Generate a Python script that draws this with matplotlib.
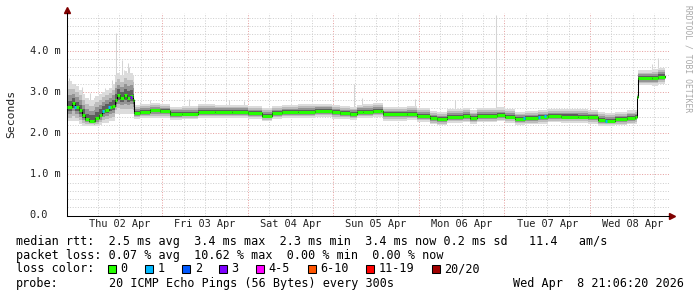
import numpy as np
import matplotlib
matplotlib.use('Agg')
import matplotlib.pyplot as plt
from matplotlib.patches import Rectangle
from matplotlib.transforms import blended_transform_factory

W, H = 697, 297
MONO = 'DejaVu Sans Mono'

# time axis: hours since Thu 02 Apr 00:00
t_hours = [-2.8, -1.3, -0.4, 0.6, 1.5, 2.4, 3.4, 4.8, 5.2, 6.2, 7.1, 8.0, 9.0, 9.9,
           10.7, 11.3, 12.2, 13.2, 14.1, 15.0, 15.7, 16.1, 17.7, 20.6, 23.4, 26.2,
           29.5, 34.0, 38.8, 43.5, 48.0, 52.0, 54.8, 57.6, 62.1, 66.8, 71.6, 73.8,
           76.6, 78.6, 80.3, 83.1, 85.3, 85.9, 92.6, 95.4, 99.1, 101.0, 103.8, 108.3,
           110.3, 112.2, 117.9, 120.1, 122.9, 125.7, 129.3, 132.1, 136.0, 140.5,
           143.3, 146.2, 148.1, 150.9, 154.5, 156.5, 157.1, 157.4, 161.3, 163.0, 165.0]
# median rtt (ms)
median_ms = [2.62, 2.73, 2.62, 2.56, 2.44, 2.34, 2.30, 2.29, 2.36, 2.44, 2.54, 2.57, 2.62, 2.65,
             2.80, 2.92, 2.86, 2.92, 2.86, 2.90, 2.80, 2.49, 2.52, 2.55, 2.53, 2.46,
             2.47, 2.52, 2.52, 2.51, 2.48, 2.42, 2.48, 2.51, 2.52, 2.54, 2.50, 2.48,
             2.46, 2.51, 2.52, 2.54, 2.54, 2.45, 2.46, 2.42, 2.36, 2.33, 2.39, 2.41,
             2.36, 2.41, 2.43, 2.40, 2.34, 2.36, 2.38, 2.41, 2.40, 2.40,
             2.38, 2.32, 2.30, 2.33, 2.36, 2.38, 2.87, 3.33, 3.33, 3.37, 3.38]
# smoke extent (fastest / slowest ping, ms)
smoke_lo = [2.28, 2.30, 2.28, 2.22, 2.18, 2.18, 2.17, 2.17, 2.18, 2.20, 2.24, 2.25, 2.28, 2.30,
            2.45, 2.47, 2.46, 2.46, 2.46, 2.47, 2.46, 2.35, 2.36, 2.37, 2.37, 2.32,
            2.33, 2.37, 2.37, 2.36, 2.34, 2.29, 2.34, 2.36, 2.37, 2.39, 2.35, 2.34,
            2.32, 2.36, 2.37, 2.39, 2.39, 2.30, 2.31, 2.27, 2.21, 2.19, 2.24, 2.26,
            2.22, 2.26, 2.28, 2.25, 2.20, 2.21, 2.23, 2.26, 2.25, 2.25,
            2.23, 2.18, 2.17, 2.19, 2.21, 2.23, 2.80, 3.16, 3.15, 3.18, 3.18]
smoke_hi = [3.25, 3.20, 3.15, 3.05, 2.95, 2.85, 2.80, 2.85, 2.90, 2.95, 3.00, 3.05, 3.10, 3.20,
            3.40, 3.45, 3.40, 3.50, 3.45, 3.45, 3.40, 2.67, 2.70, 2.72, 2.70, 2.64,
            2.65, 2.70, 2.69, 2.69, 2.66, 2.60, 2.65, 2.68, 2.70, 2.71, 2.68, 2.66,
            2.64, 2.69, 2.70, 2.72, 2.72, 2.64, 2.65, 2.60, 2.54, 2.52, 2.58, 2.60,
            2.55, 2.60, 2.62, 2.58, 2.52, 2.54, 2.57, 2.59, 2.59, 2.58,
            2.57, 2.51, 2.49, 2.52, 2.55, 2.57, 2.95, 3.52, 3.55, 3.58, 3.58]

# single slow pings sticking out of the smoke
spike_t = [-2.3, -0.5, 1.5, 3.7, 7.9, 9.9, 11.0, 12.6, 13.4, 14.3, 14.8, 17.7, 20.5,
           31.6, 42.8, 47.0, 77.8, 80.0, 94.9, 106.1, 117.6, 161.3, 163.2]
spike_top = [3.33, 3.20, 3.12, 2.97, 3.09, 3.28, 4.42, 3.77, 3.53, 3.70, 3.61, 2.76, 2.80,
             2.83, 2.80, 2.78, 3.20, 2.85, 2.83, 2.80, 4.85, 3.67, 3.82]

# intervals with packet loss (count of lost pings)
loss_t = [-0.5, 7.3, 9.0, 15.3, 125.6, 129.6, 131.3, 148.4]
loss_val = [2.62, 2.54, 2.62, 2.88, 2.36, 2.38, 2.41, 2.30]
loss_count = [1, 1, 1, 3, 1, 1, 1, 1]

day_labels = ['Thu 02 Apr', 'Fri 03 Apr', 'Sat 04 Apr', 'Sun 05 Apr',
              'Mon 06 Apr', 'Tue 07 Apr', 'Wed 08 Apr']
y_ticks = [0.0, 1.0, 2.0, 3.0, 4.0]
y_tick_labels = ['0.0', '1.0 m', '2.0 m', '3.0 m', '4.0 m']

loss_labels = ['0', '1', '2', '3', '4-5', '6-10', '11-19', '20/20']
loss_colors = ['#26ff00', '#00b8ff', '#0059ff', '#7e00ff', '#ff00ff',
               '#ff5500', '#ff0000', '#a00000']

legend_rows = [
    'median rtt:  2.5 ms avg  3.4 ms max  2.3 ms min  3.4 ms now 0.2 ms sd   11.4   am/s',
    'packet loss: 0.07 % avg  10.62 % max  0.00 % min  0.00 % now',
]
probe_text = '20 ICMP Echo Pings (56 Bytes) every 300s'
stamp_text = 'Wed Apr  8 21:06:20 2026'


def fx(px):
    return px / W


def fy(py):
    return 1 - py / H


fig = plt.figure(figsize=(W / 100, H / 100), dpi=100)
fig.patch.set_facecolor('white')

# plot area in pixels
left, right, top, bottom = 66.7, 669.0, 13.4, 215.5
ax = fig.add_axes([fx(left), fy(bottom), (right - left) / W, (bottom - top) / H])
px_per_h = 85.55 / 24
ax.set_xlim((left - 76.7) / px_per_h, (right - 76.7) / px_per_h)
ax.set_ylim(0, 4.9)
ax.set_facecolor('white')

# grid
for h in range(6, 166, 6):
    major = h % 24 == 0
    ax.axvline(h, color='#e6a0a0' if major else '#cfcfcf', lw=0.72,
               ls=(0, (1, 1.6)), zorder=0)
for v in np.arange(0.2, 4.85, 0.2):
    major = abs(v - round(v)) < 1e-6
    ax.axhline(v, color='#e6a0a0' if major else '#cfcfcf', lw=0.72,
               ls=(0, (1, 1.6)), zorder=0)

t = np.array(t_hours)
med = np.array(median_ms)
lo = np.array(smoke_lo)
hi = np.array(smoke_hi)

# spikes
idx = np.searchsorted(t, spike_t, side='right') - 1
ax.vlines(spike_t, med[idx], spike_top, color='#d4d4d4', lw=0.75, zorder=1)

# smoke layers, light outside, dark near the median
for frac, col in zip([1.0, 0.72, 0.48, 0.26], ['#dcdcdc', '#bdbdbd', '#949494', '#5e5e5e']):
    ax.fill_between(t, med - frac * (med - lo), med + frac * (hi - med),
                    step='post', color=col, lw=0, zorder=2)

# median line
ax.step(t, med, where='post', color='black', lw=0.75, zorder=3)
ax.hlines(med[:-1], t[:-1], t[1:], color=loss_colors[0], lw=2.2, zorder=4)
lt = np.array(loss_t)
ax.hlines(loss_val, lt - 0.3, lt + 0.3, color=[loss_colors[c] for c in loss_count],
          lw=2.2, zorder=5)

# axes
for s in ['top', 'right']:
    ax.spines[s].set_visible(False)
for s in ['left', 'bottom']:
    ax.spines[s].set_color('black')
    ax.spines[s].set_linewidth(0.75)
ax.set_xticks([])
ax.set_yticks([])
ax.plot([0, 0], [1, 1 + 3 / (bottom - top)], transform=ax.transAxes, color='black',
        lw=0.75, clip_on=False)
ax.plot([1, 1 + 2 / (right - left)], [0, 0], transform=ax.transAxes, color='black',
        lw=0.75, clip_on=False)
ax.plot([0], [1 + 3.5 / (bottom - top)], marker='^', ms=4, color='#800000',
        transform=ax.transAxes, clip_on=False)
ax.plot([1 + 3 / (right - left)], [0], marker='>', ms=4, color='#800000',
        transform=ax.transAxes, clip_on=False)

# tick labels
ytr = blended_transform_factory(fig.transFigure, ax.transData)
for v, lab in zip(y_ticks, y_tick_labels):
    fig.text(fx(29.5), v, lab, transform=ytr, family=MONO, size=7.4,
             ha='left', va='center', color='#222222')
xtr = blended_transform_factory(ax.transData, fig.transFigure)
for i, lab in enumerate(day_labels):
    fig.text(12 + 24 * i, fy(224), lab, transform=xtr, family=MONO, size=7.4,
             ha='center', va='center', color='#222222')

fig.text(fx(11), fy(114), 'Seconds', rotation=90, family=MONO, size=8.2,
         ha='center', va='center', color='#222222')
fig.text(fx(688), fy(5), 'RRDTOOL / TOBI OETIKER', rotation=270, family=MONO,
         size=5.8, ha='center', va='top', color='#a8a8a8')

# legend
rows_y = [241, 255, 269, 283]
for row, y in zip(legend_rows, rows_y):
    fig.text(fx(16), fy(y), row, family=MONO, size=8.5, ha='left', va='center')
fig.text(fx(16), fy(rows_y[2]), 'loss color:', family=MONO, size=8.5,
         ha='left', va='center')
char_w = 7.12
bx = 108.3
for lab, col in zip(loss_labels, loss_colors):
    fig.patches.append(Rectangle((fx(bx), fy(272.5)), 8 / W, 8 / H, transform=fig.transFigure,
                                 facecolor=col, edgecolor='black', lw=0.75))
    fig.text(fx(bx + 12.3), fy(rows_y[2]), lab, family=MONO, size=8.5,
             ha='left', va='center')
    bx = bx + 12.3 + len(lab) * char_w + 17.6
fig.text(fx(16), fy(rows_y[3]), 'probe:', family=MONO, size=8.5, ha='left', va='center')
fig.text(fx(108.6), fy(rows_y[3]), probe_text, family=MONO, size=8.5,
         ha='left', va='center')
fig.text(fx(513), fy(rows_y[3]), stamp_text, family=MONO, size=8.5,
         ha='left', va='center')

fig.savefig('out.png', dpi=100)
